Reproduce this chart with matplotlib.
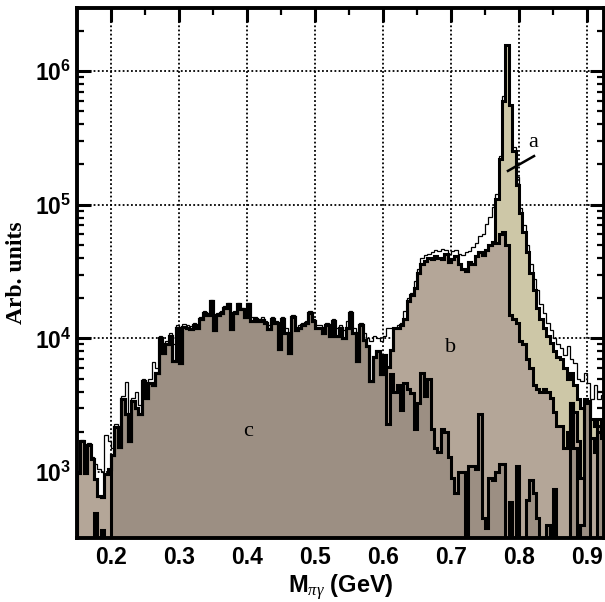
import numpy as np
import matplotlib
matplotlib.use("Agg")
import matplotlib.pyplot as plt
from matplotlib.ticker import FixedLocator, NullFormatter

plt.rcParams["font.family"] = ["Liberation Sans", "DejaVu Sans"]
plt.rcParams["mathtext.fontset"] = "custom"
plt.rcParams["mathtext.rm"] = "Liberation Sans"
plt.rcParams["mathtext.bf"] = "Liberation Sans:bold"
plt.rcParams["mathtext.it"] = "Liberation Serif:italic"

# ---------------- data (bins of 5 MeV from 0.150 to 0.925 GeV) ----------------
bin_start = 0.15
bin_width = 0.005

# c : dark component (top edge)
c_top = [
    0, 0, 0, 0, 0, 490, 0, 370, 0, 0,
    1340, 2180, 1550, 3500, 2700, 1700, 3400, 3000, 2700, 4800,
    3600, 4600, 4500, 5500, 10000, 7800, 9000, 10500, 6800, 12000,
    6500, 12200, 12000, 11800, 12500, 12000, 14000, 15500, 15000, 19000,
    11500, 15000, 15500, 17000, 18000, 11800, 15500, 18000, 16500, 14500,
    18000, 13500, 14000, 13500, 13800, 13000, 11800, 14000, 13000, 8300,
    14000, 11000, 7800, 14500, 11500, 12000, 12500, 13000, 15500, 13500,
    12000, 12000, 11000, 12500, 10500, 13500, 10500, 12000, 10000, 12000,
    15500, 11000, 6800, 12500, 9800, 8700, 4800, 7200, 8000, 5400,
    7500, 2300, 5400, 4000, 4500, 2900, 4600, 4200, 3900, 2100,
    3300, 5500, 3700, 5000, 2100, 1500, 1400, 2100, 2000, 1300,
    900, 700, 1000, 1000, 0, 1100, 1100, 1050, 2700, 450,
    380, 900, 870, 1000, 1150, 1150, 0, 600, 0, 1100,
    0, 0, 620, 870, 700, 450, 0, 0, 400, 0,
    750, 0, 0, 0, 0, 3300, 1500, 0, 400, 3400,
    3400, 0, 0, 2000, 1800,
]

# b + c : light component stacked on c (top edge)
bc_top = [
    980, 1700, 980, 1600, 1250, 880, 660, 650, 960, 1050,
    1340, 2180, 1550, 3500, 2700, 1700, 3400, 3000, 2700, 4800,
    3600, 4600, 4500, 5500, 10000, 7800, 9000, 10500, 6800, 12000,
    6500, 12200, 12000, 11800, 12500, 12000, 14000, 15500, 15000, 19000,
    11500, 15000, 15500, 17000, 18000, 11800, 15500, 18000, 16500, 14500,
    18000, 13500, 14000, 13500, 13800, 13000, 11800, 14000, 13000, 8300,
    14000, 11000, 7800, 14500, 11500, 12000, 12500, 13000, 15500, 13500,
    12000, 12000, 11000, 12500, 10500, 13500, 10500, 12000, 10000, 12000,
    15500, 11000, 6800, 12500, 9800, 8700, 4800, 7200, 8000, 5400,
    7500, 6100, 8200, 12000, 12000, 12500, 14000, 19000, 21000, 24000,
    31000, 36000, 38000, 40000, 39000, 41000, 40000, 39000, 43000, 37000,
    39000, 41000, 36000, 33000, 32000, 37000, 36000, 41000, 44000, 42000,
    46000, 50000, 53000, 52000, 60000, 63000, 50000, 15000, 14000, 13000,
    9500, 9000, 7000, 6000, 4500, 4200, 4000, 4200, 4000, 3600,
    2800, 2200, 2200, 1500, 2000, 3300, 2800, 1700, 900, 3400,
    3400, 1800, 1400, 2200, 2000,
]

# a + b + c : omega peak stacked on top (top edge)
abc_top = [
    980, 1700, 980, 1600, 1250, 880, 660, 650, 960, 1050,
    1340, 2180, 1550, 3500, 2700, 1700, 3400, 3000, 2700, 4800,
    3600, 4600, 4500, 5500, 10000, 7800, 9000, 10500, 6800, 12000,
    6500, 12200, 12000, 11800, 12500, 12000, 14000, 15500, 15000, 19000,
    11500, 15000, 15500, 17000, 18000, 11800, 15500, 18000, 16500, 14500,
    18000, 13500, 14000, 13500, 13800, 13000, 11800, 14000, 13000, 8300,
    14000, 11000, 7800, 14500, 11500, 12000, 12500, 13000, 15500, 13500,
    12000, 12000, 11000, 12500, 10500, 13500, 10500, 12000, 10000, 12000,
    15500, 11000, 6800, 12500, 9800, 8700, 4800, 7200, 8000, 5400,
    7500, 6100, 8200, 12000, 12000, 12500, 14000, 19000, 21000, 24000,
    31000, 36000, 38000, 40000, 39000, 41000, 40000, 39000, 43000, 37000,
    39000, 41000, 36000, 33000, 32000, 37000, 36000, 41000, 44000, 42000,
    46000, 50000, 53000, 110000, 220000, 600000, 1560000, 560000, 250000, 140000,
    87000, 62000, 44000, 31000, 23000, 17000, 14000, 12000, 10500, 9300,
    8000, 7200, 7000, 6000, 5000, 5500, 4500, 3500, 3000, 3500,
    3300, 2500, 2200, 2500, 2300,
]

# data (thin outline)
data = [
    1000, 1750, 1000, 1650, 1300, 1150, 1050, 1000, 1900, 1700,
    1500, 2300, 2000, 3700, 4700, 2600, 3600, 4000, 3200, 5000,
    4200, 5000, 6600, 6000, 10500, 9000, 9600, 11000, 9000, 12500,
    10000, 12800, 12500, 12300, 13000, 12500, 14500, 16000, 15500, 19500,
    13500, 15500, 16000, 17500, 18500, 14000, 16000, 18500, 17000, 15000,
    18500, 14500, 14500, 14000, 14500, 13500, 12500, 14500, 13500, 11000,
    14500, 12000, 11000, 15000, 12000, 12500, 13000, 13500, 16000, 14000,
    12500, 12500, 12000, 13000, 11500, 14000, 12000, 12500, 11500, 13500,
    16000, 12000, 10000, 13000, 11000, 10000, 9500, 10500, 10000, 9500,
    10500, 12000, 12000, 11500, 12500, 13000, 16000, 20000, 22000, 27000,
    33000, 40000, 42000, 43000, 44000, 46000, 45000, 47000, 46000, 43000,
    45000, 46000, 43000, 42000, 44000, 45000, 48000, 52000, 58000, 60000,
    72000, 81000, 96000, 120000, 230000, 650000, 1560000, 560000, 270000, 160000,
    95000, 70000, 50000, 36000, 28000, 23000, 18000, 15500, 13000, 11500,
    10000, 9000, 8500, 7500, 8800, 7000, 6500, 5000, 4800, 5500,
    4600, 3500, 4500, 3500, 3800,
]

x_major = [0.2, 0.3, 0.4, 0.5, 0.6, 0.7, 0.8, 0.9]
x_labels = ["0.2", "0.3", "0.4", "0.5", "0.6", "0.7", "0.8", "0.9"]
y_major = [1e3, 1e4, 1e5, 1e6]
y_labels = [r"$\mathbf{10^{3}}$", r"$\mathbf{10^{4}}$", r"$\mathbf{10^{5}}$", r"$\mathbf{10^{6}}$"]

annotations = [("a", 0.8206, 2.9e5), ("b", 0.700, 8600), ("c", 0.4015, 2000)]

# ---------------- plotting ----------------
col_a = "#cdc7a7"
col_b = "#b4a698"
col_c = "#9c8f83"
floor = 1.0

edges = bin_start + bin_width * np.arange(len(c_top) + 1)

fig = plt.figure(figsize=(6.05, 6.02), dpi=100)
ax = fig.add_axes([77 / 605, 64 / 602, 527 / 605, 530 / 602])
ax.set_yscale("log")
ax.set_xlim(0.15, 0.925)
ax.set_ylim(321, 2.96e6)


def prep(v):
    v = np.asarray(v, dtype=float)
    return np.where(v > 0, v, floor)


# grid
ax.set_axisbelow(True)
ax.grid(True, which="major", color="black", linestyle=(0, (1, 1.3)), linewidth=1.3, zorder=0)

# data thin outline (beneath fills so only visible above them)
ax.stairs(prep(data), edges, baseline=floor, fill=False, color="black", lw=0.9, zorder=1)

# fills
ax.stairs(prep(abc_top), edges, baseline=floor, fill=True, color=col_a, lw=0, zorder=2)
ax.stairs(prep(bc_top), edges, baseline=floor, fill=True, color=col_b, lw=0, zorder=3)
ax.stairs(prep(c_top), edges, baseline=floor, fill=True, color=col_c, lw=0, zorder=4)

# thick outlines
for vals in (abc_top, bc_top, c_top):
    ax.stairs(prep(vals), edges, baseline=floor, fill=False, color="black", lw=2.2, zorder=5)

# annotations
for lab, xx, yy in annotations:
    ax.text(xx, yy, lab, fontsize=16, family="Liberation Serif", ha="center", va="center", zorder=7)
ax.plot([0.7838, 0.8221], [1.79e5, 2.31e5], color="black", lw=1.8, zorder=7)

# ticks
ax.xaxis.set_major_locator(FixedLocator(x_major))
ax.set_xticklabels(x_labels)
ax.xaxis.set_minor_locator(FixedLocator([v + 0.05 for v in [0.1] + x_major]))
ax.yaxis.set_major_locator(FixedLocator(y_major))
ax.set_yticklabels(y_labels)
ax.yaxis.set_minor_locator(FixedLocator([m * 10 ** e for e in range(2, 7) for m in range(2, 10)]))
ax.yaxis.set_minor_formatter(NullFormatter())

ax.tick_params(which="both", direction="in", top=True, right=True)
ax.tick_params(which="major", length=10, width=2.2)
ax.tick_params(which="minor", length=5, width=1.6)
ax.tick_params(axis="x", which="major", labelsize=16.5, pad=6)
ax.tick_params(axis="y", which="major", labelsize=16.5, pad=4)
for lbl in ax.get_xticklabels():
    lbl.set_fontweight("bold")

for sp in ax.spines.values():
    sp.set_linewidth(2.8)
    sp.set_zorder(8)

ax.set_xlabel(r"$\mathbf{M}_{\pi\gamma}$ (GeV)", fontsize=17, fontweight="bold", labelpad=2)
ax.set_ylabel("Arb. units", fontsize=17, fontweight="bold", family="Liberation Serif", labelpad=6)

fig.savefig("out.png", dpi=100)
